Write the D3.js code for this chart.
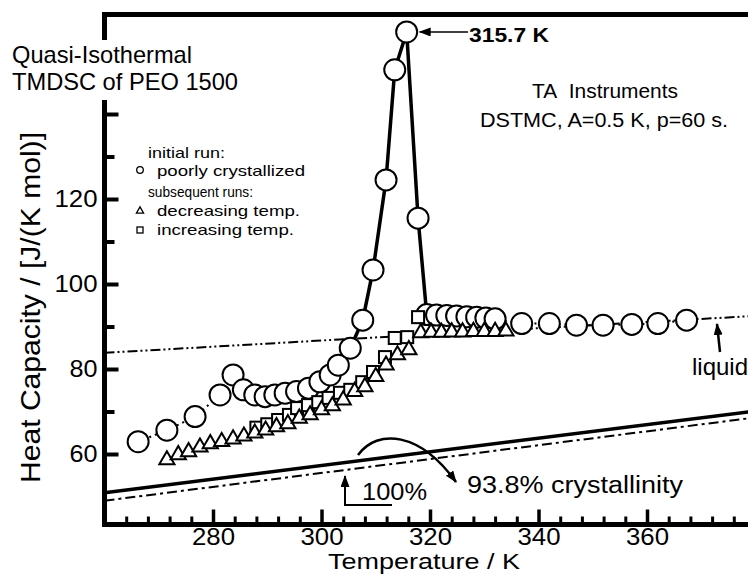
<!DOCTYPE html>
<html lang="en">
  <head>
    <meta charset="UTF-8" />
    <title>Quasi-Isothermal TMDSC of PEO 1500</title>
    <style>
      body {
        margin: 0;
        background: #fff;
      }
      svg {
        display: block;
        font-family: "Liberation Sans", Arial, sans-serif;
      }
      .tick line {
        stroke: #000;
      }
      .tick text {
        font-size: 24px;
        fill: #000;
      }
    </style>
  </head>
  <body>
    <div id="container"></div>
    <script src="https://cdnjs.cloudflare.com/ajax/libs/d3/7.8.5/d3.min.js"></script>
    <script>
      // initial run, poorly crystallized (circles)
      const circT = [266.2, 271.5, 276.7, 281.3, 283.7, 285.6, 287.7, 289.6, 291.4, 293.3, 295.4, 297.6, 299.7, 301.6, 303.1, 305.3,
        307.6, 309.5, 311.9, 313.5, 315.7, 317.8, 319.4, 321.2, 323.1, 324.9, 326.8, 328.6, 330.3, 332.0,
        336.9, 342.0, 347.0, 351.9, 357.2, 362.0, 367.3];
      const circCp = [62.9, 65.6, 68.8, 73.9, 78.6, 75.1, 73.9, 73.5, 73.9, 74.3, 74.7, 75.5, 77.0, 78.6, 80.9, 84.9,
        91.5, 103.3, 124.5, 150.4, 159.3, 115.5, 92.8, 92.7, 92.6, 92.5, 92.3, 92.2, 92.0, 91.8,
        90.7, 90.7, 90.3, 90.3, 90.5, 90.7, 91.5];
      // subsequent runs, decreasing temp. (triangles)
      const triT = [271.5, 273.6, 275.5, 277.6, 279.5, 281.6, 283.7, 285.7, 287.7, 289.7, 291.7, 293.8, 295.9, 297.9, 300.0, 302.0,
        304.0, 306.1, 308.0, 310.0, 311.9, 314.0, 316.1, 318.3, 320.2, 322.1, 324.0, 326.0, 328.0, 330.0, 332.0, 334.0];
      const triCp = [58.6, 59.8, 60.5, 61.6, 62.4, 62.9, 63.5, 64.2, 64.9, 65.6, 66.4, 67.1, 68.4, 69.2, 70.4, 71.3,
        72.7, 74.7, 75.8, 78.2, 80.9, 83.3, 84.5, 88.5, 88.6, 88.6, 88.7, 88.7, 88.8, 88.8, 88.8, 88.9];
      // subsequent runs, increasing temp. (squares)
      const squT = [288, 290, 292, 294, 295.5, 297.5, 299.4, 301.3, 303.4, 305.3, 307.5, 309.5, 311.7, 313.5, 315.8, 317.8];
      const squCp = [66.2, 67.0, 68.0, 69.2, 70.8, 71.5, 72.2, 73.2, 74.4, 75.1, 76.9, 79.3, 82.8, 87.3, 87.5, 92.2];
      // reference lines
      const lineT = [260, 380];
      const liquidCp = [83.8, 92.5];
      const solidCp = [50.9, 70.1];
      const dashCp = [49.0, 68.6];
      // ticks
      const xMajor = [280, 300, 320, 340, 360];
      const xMinor = d3.range(264, 380, 4).filter((t) => t % 20 !== 0);
      const yMajor = [60, 80, 100, 120, 140];
      const yMinor = [70, 90, 110, 130];
      const yLabeled = [60, 80, 100, 120];

      const width = 748,
        height = 575;
      const x = d3.scaleLinear().domain([260, 380]).range([104.5, 755.5]);
      const y = d3.scaleLinear().domain([60, 120]).range([454, 199]);
      const yTop = 14.5,
        yBot = 524.5;

      const svg = d3
        .select("#container")
        .append("svg")
        .attr("width", width)
        .attr("height", height);

      const defs = svg.append("defs");
      defs
        .append("marker")
        .attr("id", "arr")
        .attr("markerUnits", "userSpaceOnUse")
        .attr("markerWidth", 12)
        .attr("markerHeight", 10)
        .attr("refX", 11)
        .attr("refY", 4.5)
        .attr("orient", "auto")
        .append("path")
        .attr("d", "M0,0 L12,4.5 L0,9 z")
        .attr("fill", "#000");

      // reference lines
      const ln = d3
        .line()
        .x((d) => x(d[0]))
        .y((d) => y(d[1]));
      svg.append("path")
        .attr("d", ln(d3.zip(lineT, liquidCp)))
        .attr("fill", "none").attr("stroke", "#000").attr("stroke-width", 2)
        .attr("stroke-dasharray", "10,3,2,3,2,3");
      svg.append("path")
        .attr("d", ln(d3.zip(lineT, solidCp)))
        .attr("fill", "none").attr("stroke", "#000").attr("stroke-width", 3.5);
      svg.append("path")
        .attr("d", ln(d3.zip(lineT, dashCp)))
        .attr("fill", "none").attr("stroke", "#000").attr("stroke-width", 2)
        .attr("stroke-dasharray", "10,4,3,4");

      // connecting line of the initial run
      const circ = d3.zip(circT, circCp);
      svg.append("path")
        .attr("d", ln(circ))
        .attr("fill", "none").attr("stroke", "#000").attr("stroke-width", 2)
        .attr("stroke-dasharray", "2,4");
      const i0 = circT.indexOf(305.3),
        i1 = circT.indexOf(319.4);
      svg.append("path")
        .attr("d", ln(circ.slice(i0, i1 + 1)))
        .attr("fill", "none").attr("stroke", "#000").attr("stroke-width", 3.5);

      svg.append("g")
        .selectAll("circle")
        .data(circ)
        .join("circle")
        .attr("cx", (d) => x(d[0]))
        .attr("cy", (d) => y(d[1]))
        .attr("r", 10.5)
        .attr("fill", "#fff")
        .attr("stroke", "#000")
        .attr("stroke-width", 2);

      svg.append("g")
        .selectAll("rect")
        .data(d3.zip(squT, squCp))
        .join("rect")
        .attr("x", (d) => x(d[0]) - 6)
        .attr("y", (d) => y(d[1]) - 6)
        .attr("width", 12)
        .attr("height", 12)
        .attr("fill", "#fff")
        .attr("stroke", "#000")
        .attr("stroke-width", 2);

      const tri = d3.symbol().type(d3.symbolTriangle).size(100);
      svg.append("g")
        .selectAll("path")
        .data(d3.zip(triT, triCp))
        .join("path")
        .attr("d", tri)
        .attr("transform", (d) => `translate(${x(d[0])},${y(d[1])})`)
        .attr("fill", "#fff")
        .attr("stroke", "#000")
        .attr("stroke-width", 2);

      // axes
      const gx = svg.append("g").attr("transform", `translate(0,${yBot})`);
      gx.append("g")
        .call(d3.axisBottom(x).tickValues(xMinor).tickSize(-8).tickFormat(""))
        .call((g) => g.select(".domain").remove())
        .selectAll("line").attr("stroke-width", 3);
      gx.append("g")
        .call(d3.axisBottom(x).tickValues(xMajor).tickSize(-15).tickPadding(3))
        .call((g) => g.select(".domain").remove())
        .call((g) => g.selectAll("line").attr("stroke-width", 3.5))
        .selectAll("text")
        .attr("textLength", 43)
        .attr("lengthAdjust", "spacingAndGlyphs");

      const gy = svg.append("g").attr("transform", `translate(${x(260)},0)`);
      gy.append("g")
        .call(d3.axisLeft(y).tickValues(yMinor).tickSize(-10).tickFormat(""))
        .call((g) => g.select(".domain").remove())
        .selectAll("line").attr("stroke-width", 4);
      gy.append("g")
        .call(d3.axisLeft(y).tickValues(yMajor).tickSize(-14).tickPadding(7)
          .tickFormat((d) => (yLabeled.includes(d) ? d : "")))
        .call((g) => g.select(".domain").remove())
        .call((g) => g.selectAll("line").attr("stroke-width", 4))
        .selectAll("text")
        .attr("textLength", (d) => (d >= 100 ? 43 : 28))
        .attr("lengthAdjust", "spacingAndGlyphs");

      // frame (left axis is broken behind the title)
      const frame = svg.append("g").attr("stroke", "#000").attr("stroke-width", 5);
      frame.append("line").attr("x1", x(260) - 2.5).attr("x2", width).attr("y1", yTop).attr("y2", yTop);
      frame.append("line").attr("x1", x(260) - 2.5).attr("x2", width).attr("y1", yBot).attr("y2", yBot);
      frame.append("line").attr("x1", x(260)).attr("x2", x(260)).attr("y1", yTop).attr("y2", 40);
      frame.append("line").attr("x1", x(260)).attr("x2", x(260)).attr("y1", 100).attr("y2", yBot + 2.5);

      // texts
      function txt(s, tx, ty, size, len, opts = {}) {
        const t = svg.append("text")
          .attr("x", tx).attr("y", ty)
          .attr("font-size", size)
          .attr("fill", "#000")
          .text(s);
        if (len) t.attr("textLength", len).attr("lengthAdjust", "spacingAndGlyphs");
        if (opts.anchor) t.attr("text-anchor", opts.anchor);
        if (opts.weight) t.attr("font-weight", opts.weight);
        if (opts.transform) t.attr("transform", opts.transform);
        return t;
      }

      txt("Quasi-Isothermal", 12, 63, 24, 180);
      txt("TMDSC of PEO 1500", 12, 90, 24, 226);
      txt("TA\u00a0 Instruments", 532, 98, 20, 146);
      txt("DSTMC, A=0.5 K, p=60 s.", 480, 127, 20, 248);

      // legend
      txt("initial run:", 148, 158, 15, 77);
      txt("poorly crystallized", 157, 176, 15, 148);
      txt("subsequent runs:", 148, 197, 15, 105);
      txt("decreasing temp.", 157, 216, 15, 143);
      txt("increasing temp.", 157, 235, 15, 137);
      svg.append("circle").attr("cx", 140).attr("cy", 170).attr("r", 3.3)
        .attr("fill", "#fff").attr("stroke", "#000").attr("stroke-width", 1.3);
      svg.append("path").attr("d", d3.symbol().type(d3.symbolTriangle).size(22))
        .attr("transform", "translate(140,211)")
        .attr("fill", "#fff").attr("stroke", "#000").attr("stroke-width", 1.3);
      svg.append("rect").attr("x", 137).attr("y", 227).attr("width", 6).attr("height", 6)
        .attr("fill", "#fff").attr("stroke", "#000").attr("stroke-width", 1.3);

      // axis titles
      txt("Temperature / K", 424, 569, 22, 192, { anchor: "middle" });
      txt("Heat Capacity / [J/(K mol)]", 0, 0, 28, 351, {
        anchor: "middle",
        transform: "translate(40,307.5) rotate(-90)",
      });

      // annotations
      const peakX = x(315.7),
        peakY = y(159.3);
      svg.append("line")
        .attr("x1", 468).attr("y1", peakY).attr("x2", peakX + 13).attr("y2", peakY)
        .attr("stroke", "#000").attr("stroke-width", 1.5).attr("marker-end", "url(#arr)");
      txt("315.7 K", 469, 42, 21, 80, { weight: "bold" });

      svg.append("line")
        .attr("x1", 720).attr("y1", 352).attr("x2", 717).attr("y2", 324)
        .attr("stroke", "#000").attr("stroke-width", 2.5).attr("marker-end", "url(#arr)");
      txt("liquid", 692, 375, 24);

      svg.append("path")
        .attr("d", "M392,505 L345,505 L345,476")
        .attr("fill", "none").attr("stroke", "#000").attr("stroke-width", 2)
        .attr("marker-end", "url(#arr)");
      txt("100%", 362, 500, 23, 65);

      svg.append("path")
        .attr("d", "M358,455 C378,428 420,432 456,482")
        .attr("fill", "none").attr("stroke", "#000").attr("stroke-width", 2.5)
        .attr("marker-end", "url(#arr)");
      txt("93.8% crystallinity", 467, 493, 23, 216);
    </script>
  </body>
</html>
